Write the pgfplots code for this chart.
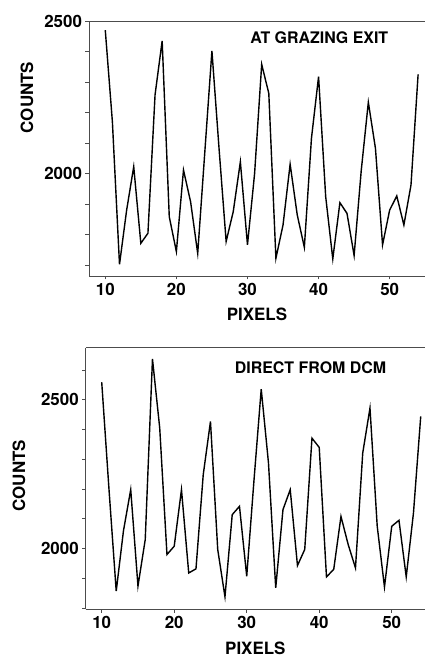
\documentclass[border=0pt]{standalone}
\usepackage{fontspec}
\setmainfont{TeX Gyre Heros}
\usepackage{pgfplots}
\pgfplotsset{compat=1.18}

\pgfplotsset{
  panel/.style={
    scale only axis,
    axis x line*=box, axis y line*=left,
    xtick pos=left,
    tick align=outside,
    axis line style={gray!60!black, line width=0.8bp},
    every tick/.style={gray!60!black, line width=0.8bp},
    major tick length=3.5bp, minor tick length=3.5bp,
    xtick={10,20,30,40,50},
    ytick={2000,2500},
    /pgf/number format/assume math mode=true,
    /pgf/number format/1000 sep={},
    ticklabel style={font=\bfseries\fontsize{17}{17}\selectfont},
    label style={font=\bfseries\fontsize{17}{17}\selectfont},
    clip=false,
  },
  dataline/.style={black, line width=1.4bp, mark=none},
}

\begin{document}
\begin{tikzpicture}
\useasboundingbox (0,0) rectangle (425bp,661bp);

% upper panel
\begin{axis}[panel,
  at={(89bp,385bp)}, anchor=south west,
  width=336bp, height=255bp,
  xmin=7.71, xmax=54.97, ymin=1665, ymax=2500,
  minor ytick={1700,1800,1900,2100,2200,2300,2400},
  xlabel={PIXELS}, ylabel={COUNTS},
  xlabel style={at={(axis description cs:0.5,-0.15)}, anchor=center},
  ylabel style={at={(axis description cs:-0.1845,0.70)}, anchor=center, rotate=0},
]
\addplot[dataline] coordinates {
(10,2470)(11,2170)(12,1703)(13,1880)(14,2023)(15,1772)(16,1805)(17,2258)
(18,2435)(19,1859)(20,1745)(21,2012)(22,1908)(23,1739)(24,2071)(25,2402)
(26,2083)(27,1778)(28,1876)(29,2039)(30,1767)(31,2000)(32,2358)(33,2263)
(34,1723)(35,1832)(36,2031)(37,1865)(38,1759)(39,2116)(40,2318)(41,1925)
(42,1721)(43,1905)(44,1870)(45,1732)(46,2010)(47,2234)(48,2083)(49,1767)
(50,1881)(51,1927)(52,1832)(53,1963)(54,2325)};
\node[font=\bfseries\fontsize{16}{16}\selectfont, anchor=center]
  at (axis cs:40.1,2446) {AT GRAZING EXIT};
\end{axis}

% lower panel
\begin{axis}[panel,
  at={(85.7bp,52bp)}, anchor=south west,
  width=339.3bp, height=261.3bp,
  xmin=7.79, xmax=54.59, ymin=1797, ymax=2675,
  minor ytick={1800,1900,2100,2200,2300,2400,2600},
  xlabel={PIXELS}, ylabel={COUNTS},
  xlabel style={at={(axis description cs:0.5,-0.152)}, anchor=center},
  ylabel style={at={(axis description cs:-0.197,0.51)}, anchor=center, rotate=0},
]
\addplot[dataline] coordinates {
(10,2559)(11,2200)(12,1857)(13,2060)(14,2198)(15,1874)(16,2030)(17,2637)
(18,2405)(19,1980)(20,2008)(21,2198)(22,1918)(23,1932)(24,2248)(25,2427)
(26,1997)(27,1838)(28,2114)(29,2142)(30,1907)(31,2229)(32,2536)(33,2288)
(34,1868)(35,2131)(36,2198)(37,1943)(38,1997)(39,2371)(40,2340)(41,1905)
(42,1930)(43,2108)(44,2013)(45,1935)(46,2321)(47,2472)(48,2075)(49,1871)
(50,2075)(51,2095)(52,1905)(53,2120)(54,2444)};
\node[font=\bfseries\fontsize{16}{16}\selectfont, anchor=center]
  at (axis cs:38.8,2607) {DIRECT FROM DCM};
\end{axis}
\end{tikzpicture}
\end{document}
